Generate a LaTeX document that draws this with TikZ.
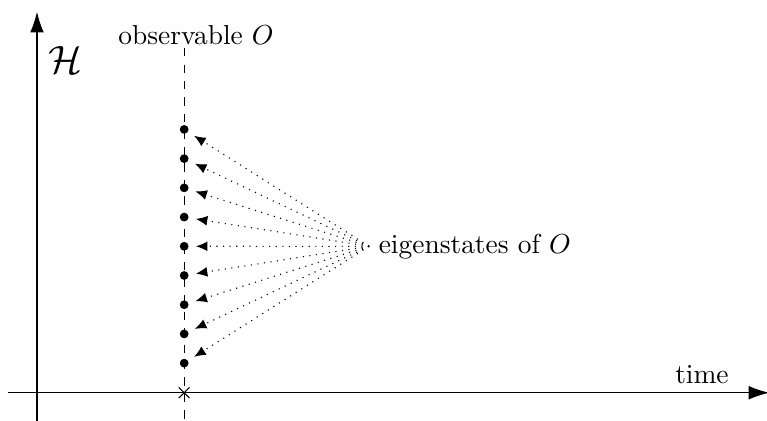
\documentclass[tikz,border=0pt]{standalone}
\usepackage{amsmath,amssymb}
\usepackage{tikz}
\usetikzlibrary{arrows.meta,positioning,shapes.misc}

\begin{document}
\begin{tikzpicture}[
  scale=0.947,
  axis/.style={-{Latex[length=7.5pt,width=5pt]}},
  state/.style={circle, fill, inner sep=0pt, minimum size=3.2pt},
  arr/.style={-{Latex[length=4.2pt,width=3.6pt]}, dotted, shorten >=2.5pt}
]
\useasboundingbox (-0.50,-0.38) rectangle (9.87,5.31);
% axes
\coordinate (xs) at (-0.39,0);
\coordinate (xe) at (9.90,0);
\coordinate (ys) at (0,-0.40);
\coordinate (ye) at (0,5.15);
\draw[axis] (xs) -- (xe);
\draw[axis] (ys) -- (ye);
\node (time) at (8.99,0.24) {time};
\node (hil) at (0.39,4.50) {\Large $\mathcal{H}$};
% observable
\coordinate (otop) at (1.99,4.66);
\coordinate (obot) at (1.99,-0.40);
\draw[dashed] (otop) -- (obot);
\node (obs) at (2.15,4.84) {observable $O$};
\node[cross out, draw, inner sep=0pt, minimum size=3.5pt] (mark) at (1.99,0) {};
% eigenstates
\foreach \i in {0,...,8}
  \node[state] (s\i) at (1.99,{0.40+0.395*\i}) {};
\coordinate (src) at (4.49,1.98);
\node[anchor=west] (eig) at (src) {eigenstates of $O$};
\foreach \i in {0,...,8}
  \draw[arr] (eig.west) -- (s\i);
\end{tikzpicture}
\end{document}
